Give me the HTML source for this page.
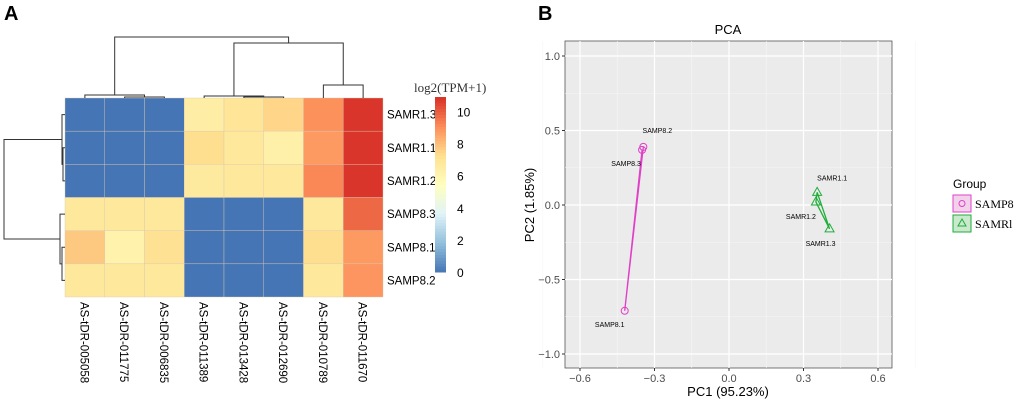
<!DOCTYPE html>
<html><head><meta charset="utf-8"><style>
html,body{margin:0;padding:0;background:#fff;width:1020px;height:401px;overflow:hidden}
svg{display:block;font-family:"Liberation Sans",sans-serif}
</style></head><body>
<svg id="fig" width="1020" height="401" viewBox="0 0 1020 401">
<text x="4" y="20" font-size="20" font-weight="bold">A</text>
<text x="538" y="20" font-size="20" font-weight="bold">B</text>
<g id="hm"></g>
<g id="pca"></g>
</svg>
<script>
const cols=["AS-tDR-005058","AS-tDR-011775","AS-tDR-006835","AS-tDR-011389","AS-tDR-013428","AS-tDR-012690","AS-tDR-010789","AS-tDR-011670"];
const rows=["SAMR1.3","SAMR1.1","SAMR1.2","SAMP8.3","SAMP8.1","SAMP8.2"];
const r0=[0,0,0,6.5,7,7.5,9,10.8];
const r1=[0,0,0,7.3,6.8,6.3,8.8,10.8];
const r2=[0,0,0,6.7,6.8,6.8,9.2,10.8];
const r3=[6.8,6.8,6.8,0,0,0,6.8,9.8];
const r4=[7.8,6.2,7.2,0,0,0,7.3,8.8];
const r5=[6.8,6.8,6.8,0,0,0,6.8,8.9];
const cbTicks=[0,2,4,6,8,10];
const pcaNames=["SAMP8.1","SAMP8.2","SAMP8.3","SAMR1.1","SAMR1.2","SAMR1.3"];
const pc1=[-0.42,-0.345,-0.35,0.355,0.35,0.405];
const pc2=[-0.71,0.39,0.37,0.085,0.02,-0.16];
const xTicks=[-0.6,-0.3,0.0,0.3,0.6];
const yTicks=[1.0,0.5,0.0,-0.5,-1.0];

const NS="http://www.w3.org/2000/svg";
function mk(p,t,a,txt){const e=document.createElementNS(NS,t);for(const k in a)e.setAttribute(k,a[k]);if(txt!==undefined)e.textContent=txt;p.appendChild(e);return e;}
const pal=["#4575B4","#91BFDB","#E0F3F8","#FFFFBF","#FEE090","#FC8D59","#D73027"];
const vmax=10.9;
function hx(c){return [1,3,5].map(i=>parseInt(c.substr(i,2),16));}
function col(v){let t=Math.max(0,Math.min(1,v/vmax))*(pal.length-1);let i=Math.min(pal.length-2,Math.floor(t));let f=t-i;const a=hx(pal[i]),b=hx(pal[i+1]);return "rgb("+a.map((x,k)=>Math.round(x+(b[k]-x)*f)).join(",")+")";}

const hm=document.getElementById('hm');
const data=[r0,r1,r2,r3,r4,r5];
const X0=65,X1=383,Y0=98,Y1=297;
const cw=(X1-X0)/cols.length,rh=(Y1-Y0)/rows.length;
const cx=i=>X0+cw*(i+0.5), ry=j=>Y0+rh*(j+0.5);
data.forEach((row,j)=>row.forEach((v,i)=>{
 const r=mk(hm,'rect',{x:X0+cw*i,y:Y0+rh*j,width:cw,height:rh,fill:col(v),stroke:"#d9c9b0","stroke-width":0.4});
 
 
}));
rows.forEach((n,j)=>{const t=mk(hm,'text',{x:387,y:ry(j)+4,"font-size":11.5},n);
 });
cols.forEach((n,i)=>{const t=mk(hm,'text',{x:0,y:0,"font-size":11.5,transform:`translate(${cx(i)-4.5},302) rotate(90)`},n);
 });
const dg=mk(hm,'g',{stroke:"#333","stroke-width":1,fill:"none"});

function U(x1,x2,yb1,yb2,yt){mk(dg,'path',{d:`M${x1},${yb1}V${yt}H${x2}V${yb2}`});}
function UL(y1,y2,xb1,xb2,xt){mk(dg,'path',{d:`M${xb1},${y1}H${xt}V${y2}H${xb2}`});}
U(cx(1),cx(2),98,98,97);U(cx(0),(cx(1)+cx(2))/2,98,97,95);
const lc=(cx(0)+(cx(1)+cx(2))/2)/2;
U(cx(4),cx(5),98,98,97);U(cx(3),(cx(4)+cx(5))/2,98,97,96);
const mc=(cx(3)+(cx(4)+cx(5))/2)/2;
U(cx(6),cx(7),98,98,85);U(mc,(cx(6)+cx(7))/2,96,85,43);
U(lc,(mc+(cx(6)+cx(7))/2)/2,95,43,37);
UL(ry(1),ry(2),65,65,63);UL(ry(0),(ry(1)+ry(2))/2,65,63,62);
UL(ry(4),ry(5),65,65,62);UL(ry(3),(ry(4)+ry(5))/2,65,62,60);
UL((ry(0)+(ry(1)+ry(2))/2)/2,(ry(3)+(ry(4)+ry(5))/2)/2,62,60,4);
const cb=mk(hm,'g',{});
const cbY0=272,cbY1=97;
for(let k=0;k<60;k++){const v=vmax*k/60;mk(cb,'rect',{x:435,y:cbY0-(cbY0-cbY1)*(k+1)/60,width:11,height:(cbY0-cbY1)/60+0.5,fill:col(v+vmax/120)});}
const cbs=v=>cbY0-(cbY0-cbY1)*v/vmax;
cbTicks.forEach(v=>{const t=mk(cb,'text',{x:457,y:cbs(v)+5,"font-size":12},v);});
mk(cb,'text',{x:414,y:92,"font-size":13,"font-family":"Liberation Serif,serif",fill:"#333"},"log2(TPM+1)");

const pg=document.getElementById('pca');
const PX0=565,PX1=892,PY0=41,PY1=368;
const sx=v=>580+(878-580)*(v+0.6)/1.2, sy=v=>56+(354-56)*(1-v)/2;
mk(pg,'rect',{x:PX0,y:PY0,width:PX1-PX0,height:PY1-PY0,fill:"#ebebeb",stroke:"#555","stroke-width":0.8});
for(let v=-0.75;v<=0.76;v+=0.3){mk(pg,'line',{x1:sx(v),x2:sx(v),y1:PY0,y2:PY1,stroke:"#f6f6f6","stroke-width":0.6});}
for(let v=-0.75;v<=0.76;v+=0.5){mk(pg,'line',{y1:sy(v),y2:sy(v),x1:PX0,x2:PX1,stroke:"#f6f6f6","stroke-width":0.6});}
xTicks.forEach(v=>{mk(pg,'line',{x1:sx(v),x2:sx(v),y1:PY0,y2:PY1,stroke:"#fff","stroke-width":1.2});
 mk(pg,'line',{x1:sx(v),x2:sx(v),y1:PY1,y2:PY1+3,stroke:"#333"});
 const t=mk(pg,'text',{x:sx(v),y:PY1+14,"font-size":11,fill:"#4d4d4d","text-anchor":"middle"},(v<0?"\u2212":"")+Math.abs(v).toFixed(1));
 });
yTicks.forEach(v=>{mk(pg,'line',{y1:sy(v),y2:sy(v),x1:PX0,x2:PX1,stroke:"#fff","stroke-width":1.2});
 mk(pg,'line',{y1:sy(v),y2:sy(v),x1:PX0-3,x2:PX0,stroke:"#333"});
 const t=mk(pg,'text',{x:PX0-5,y:sy(v)+4,"font-size":11,fill:"#4d4d4d","text-anchor":"end"},(v<0?"\u2212":"")+Math.abs(v).toFixed(1));
 });
mk(pg,'text',{x:728,y:34,"font-size":13,"text-anchor":"middle"},"PCA");
mk(pg,'text',{x:728,y:396,"font-size":13,"text-anchor":"middle"},"PC1 (95.23%)");
mk(pg,'text',{x:0,y:0,"font-size":13,"text-anchor":"middle",transform:"translate(534,205) rotate(-90)"},"PC2 (1.85%)");
const pink="#e040c8",green="#1fae3a";
mk(pg,'path',{d:`M${sx(pc1[0])},${sy(pc2[0])}L${sx(pc1[1])},${sy(pc2[1])}M${sx(pc1[0])},${sy(pc2[0])}L${sx(pc1[2])},${sy(pc2[2])}`,stroke:pink,"stroke-width":1.3,fill:"none"});
mk(pg,'path',{d:`M${sx(pc1[3])},${sy(pc2[3])}L${sx(pc1[5])},${sy(pc2[5])}L${sx(pc1[4])},${sy(pc2[4])}Z`,stroke:green,"stroke-width":1.3,fill:"none"});
const lblOff=[[-15,16],[14,-14],[-16,16],[15,-12],[-15,17],[-9,17]];
pcaNames.forEach((n,i)=>{const x=sx(pc1[i]),y=sy(pc2[i]);let m;
 if(i<3){m=mk(pg,'circle',{cx:x,cy:y,r:3.5,fill:"none",stroke:pink,"stroke-width":1});}
 else{m=mk(pg,'path',{d:`M${x},${y-5}L${x+4.5},${y+3}L${x-4.5},${y+3}Z`,fill:"none",stroke:green,"stroke-width":1});}
 
 const t=mk(pg,'text',{x:x+lblOff[i][0],y:y+lblOff[i][1],"font-size":7,"text-anchor":"middle"},n);
 });
const lg=mk(pg,'g',{});
mk(lg,'text',{x:953,y:188,"font-size":12},"Group");
mk(lg,'rect',{x:953,y:195,width:18,height:17,fill:"#f2d2ea",stroke:pink,"stroke-width":1});
mk(lg,'circle',{cx:962,cy:203.5,r:3,fill:"none",stroke:pink});
mk(lg,'text',{x:975,y:208,"font-size":12,"font-family":"Liberation Serif,serif"},"SAMP8");
mk(lg,'rect',{x:953,y:215,width:18,height:17,fill:"#c9e8cc",stroke:green,"stroke-width":1});
mk(lg,'path',{d:"M962,219L966,226L958,226Z",fill:"none",stroke:green});
mk(lg,'text',{x:975,y:228,"font-size":12,"font-family":"Liberation Serif,serif"},"SAMRl");
</script>
</body></html>
